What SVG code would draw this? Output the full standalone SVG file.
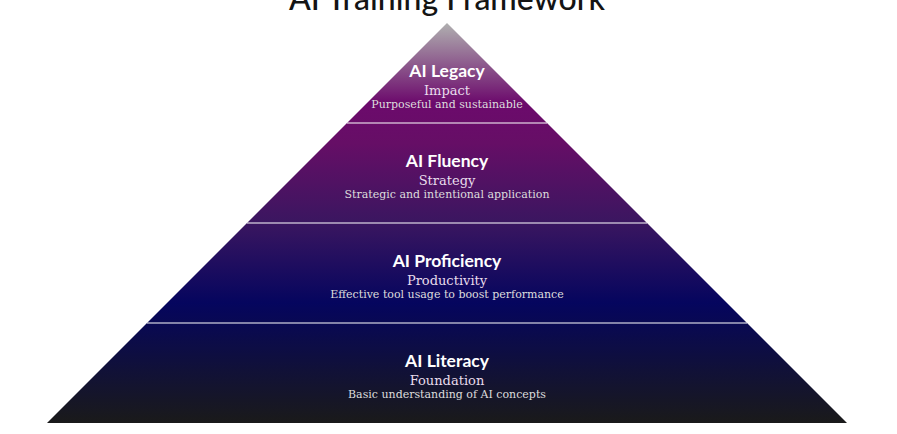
<svg xmlns="http://www.w3.org/2000/svg" width="897" height="434" viewBox="0 0 897 434">
<defs>
<linearGradient id="pg" gradientUnits="userSpaceOnUse" x1="0" y1="23" x2="0" y2="423">
<stop offset="0" stop-color="#b0b0b0"/>
<stop offset="0.2" stop-color="#6c0a6c"/>
<stop offset="0.3" stop-color="#660e66"/>
<stop offset="0.5" stop-color="#3a1660"/>
<stop offset="0.7" stop-color="#05055e"/>
<stop offset="1" stop-color="#1a1a1a"/>
</linearGradient>
<style>
.title{font-family:Lato,"Open Sans",sans-serif;font-size:32px;font-weight:500;fill:#141414;text-anchor:middle}
.h{font-family:Lato,"Open Sans",sans-serif;font-size:17.5px;font-weight:bold;fill:#ffffff;text-anchor:middle}
.s{font-family:"DejaVu Serif","Liberation Serif",serif;font-size:13px;fill:#e8dcec;text-anchor:middle}
.d{font-family:"DejaVu Serif","Liberation Serif",serif;font-size:11px;fill:#dddddd;text-anchor:middle}
.sep{stroke:#ffffff;stroke-opacity:0.5;stroke-width:2}
</style>
</defs>
<rect width="897" height="434" fill="#ffffff"/>
<text class="title" x="447" y="10">AI Training Framework</text>
<polygon points="447,23 847,423 47,423" fill="url(#pg)"/>
<g id="separators">
<line class="sep" x1="347" y1="123" x2="547" y2="123"/>
<line class="sep" x1="247" y1="223" x2="647" y2="223"/>
<line class="sep" x1="147" y1="323" x2="747" y2="323"/>
</g>
<g id="legacy">
<text class="h" x="447" y="77">AI Legacy</text>
<text class="s" x="447" y="95">Impact</text>
<text class="d" x="447" y="108">Purposeful and sustainable</text>
</g>
<g id="fluency">
<text class="h" x="447" y="167">AI Fluency</text>
<text class="s" x="447" y="185">Strategy</text>
<text class="d" x="447" y="198">Strategic and intentional application</text>
</g>
<g id="proficiency">
<text class="h" x="447" y="267">AI Proficiency</text>
<text class="s" x="447" y="285">Productivity</text>
<text class="d" x="447" y="298">Effective tool usage to boost performance</text>
</g>
<g id="literacy">
<text class="h" x="447" y="367">AI Literacy</text>
<text class="s" x="447" y="385">Foundation</text>
<text class="d" x="447" y="398">Basic understanding of AI concepts</text>
</g>
</svg>
